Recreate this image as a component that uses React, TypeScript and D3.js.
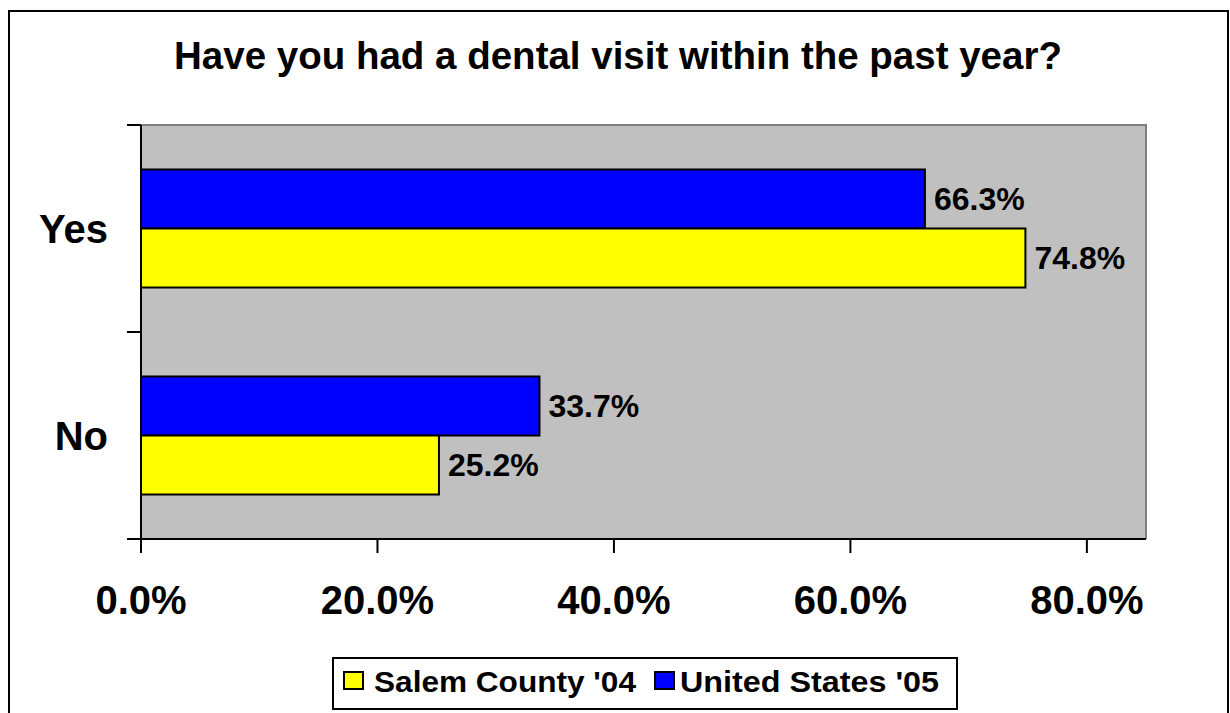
import React from "react";
import * as d3 from "d3";

const categories = ["Yes", "No"];
const seriesNames = ["United States '05", "Salem County '04"];
const usValues = [66.3, 33.7];
const salemValues = [74.8, 25.2];
const xTicks = [0, 20, 40, 60, 80];
const legendOrder = ["Salem County '04", "United States '05"];
const colors: Record<string, string> = {
  "Salem County '04": "#FFFF00",
  "United States '05": "#0000FF",
};

const W = 1230;
const H = 713;
const plot = { left: 141, right: 1146, top: 125, bottom: 539 };

export default function App() {
  const x = d3.scaleLinear().domain([0, 85]).range([plot.left, plot.right]);
  const y = d3.scaleBand<string>().domain(categories).range([plot.top, plot.bottom]).padding(0);
  const sub = d3
    .scaleBand<string>()
    .domain(seriesNames)
    .range([0, y.bandwidth()])
    .paddingInner(0)
    .paddingOuter(0.754);

  const rows = categories.map((c, i) => ({
    cat: c,
    vals: [
      { s: seriesNames[0], v: usValues[i] },
      { s: seriesNames[1], v: salemValues[i] },
    ],
  }));

  const yTickPos = [plot.top, ...categories.map((c) => (y(c) as number) + y.bandwidth())];
  const font = "Arial, 'Liberation Sans', Helvetica, sans-serif";

  const legendItems = [
    { name: legendOrder[0], sq: 344, tx: 374, len: 262 },
    { name: legendOrder[1], sq: 655, tx: 680, len: 259 },
  ];

  return (
    <svg
      width={W}
      height={H}
      style={{ position: "absolute", left: 0, top: 0, background: "#fff" }}
      fontFamily={font}
    >
      <rect x={9} y={11} width={1219} height={720} fill="#fff" stroke="#000" strokeWidth={2} />
      <text x={618} y={69} textAnchor="middle" fontSize={38.5} fontWeight="bold" fill="#000">
        Have you had a dental visit within the past year?
      </text>

      {/* plot background */}
      <rect
        x={plot.left}
        y={plot.top}
        width={plot.right - plot.left}
        height={plot.bottom - plot.top}
        fill="#C0C0C0"
      />
      <polyline
        points={`${plot.left},${plot.top} ${plot.right},${plot.top} ${plot.right},${plot.bottom}`}
        fill="none"
        stroke="#808080"
        strokeWidth={2}
      />

      {/* bars */}
      {rows.map((r) =>
        r.vals.map((d) => {
          const yy = (y(r.cat) as number) + (sub(d.s) as number);
          return (
            <g key={r.cat + d.s}>
              <rect
                x={x(0)}
                y={yy}
                width={x(d.v) - x(0)}
                height={sub.bandwidth()}
                fill={colors[d.s]}
                stroke="#000"
                strokeWidth={2}
              />
              <text
                x={x(d.v) + 9}
                y={yy + sub.bandwidth() / 2 + 11}
                fontSize={32}
                fontWeight="bold"
                fill="#000"
              >
                {d.v.toFixed(1)}%
              </text>
            </g>
          );
        })
      )}

      {/* axes */}
      <line x1={plot.left} x2={plot.left} y1={plot.top} y2={plot.bottom} stroke="#000" strokeWidth={2} />
      <line x1={plot.left} x2={plot.right} y1={plot.bottom} y2={plot.bottom} stroke="#000" strokeWidth={2} />
      {yTickPos.map((p, i) => (
        <line key={i} x1={127} x2={plot.left} y1={p} y2={p} stroke="#000" strokeWidth={2} />
      ))}
      {categories.map((c) => (
        <text
          key={c}
          x={108}
          y={(y(c) as number) + y.bandwidth() / 2 + 14}
          textAnchor="end"
          fontSize={40}
          fontWeight="bold"
          fill="#000"
        >
          {c}
        </text>
      ))}
      {xTicks.map((t) => (
        <g key={t}>
          <line x1={x(t)} x2={x(t)} y1={plot.bottom} y2={plot.bottom + 14} stroke="#000" strokeWidth={2} />
          <text x={x(t)} y={614} textAnchor="middle" fontSize={40} fontWeight="bold" fill="#000">
            {t.toFixed(1)}%
          </text>
        </g>
      ))}

      {/* legend */}
      <rect x={333} y={658} width={624} height={51} fill="#fff" stroke="#000" strokeWidth={2} />
      {legendItems.map((l) => (
        <g key={l.name}>
          <rect x={l.sq} y={672} width={19} height={17} fill={colors[l.name]} stroke="#000" strokeWidth={2} />
          <text
            x={l.tx}
            y={692}
            fontSize={30}
            fontWeight="bold"
            fill="#000"
            textLength={l.len}
            lengthAdjust="spacingAndGlyphs"
          >
            {l.name}
          </text>
        </g>
      ))}
    </svg>
  );
}
